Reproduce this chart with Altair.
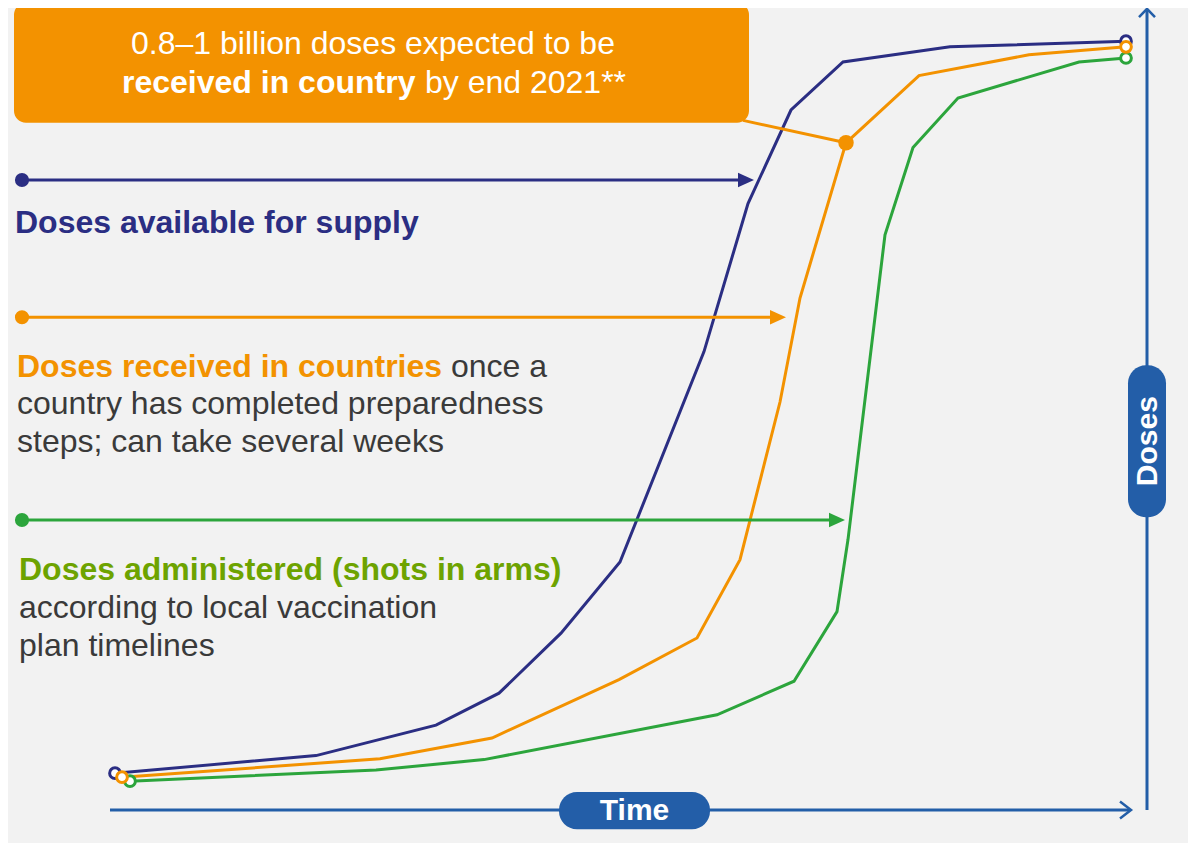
import altair as alt
import pandas as pd

# ---------------- data (time units, dose units) ----------------
series_names = ["Doses available for supply", "Doses received in countries", "Doses administered"]

supply_time = [0.5, 20.6, 32.6, 38.9, 45.1, 51.0, 59.4, 63.8, 68.1, 73.3, 84.0, 101.6]
supply_doses = [4.6, 6.8, 10.6, 14.6, 22.1, 31.0, 57.3, 75.8, 87.5, 93.5, 95.4, 96.1]

received_time = [1.2, 27.0, 38.2, 50.9, 58.7, 63.0, 67.0, 69.0, 73.6, 80.9, 91.9, 101.6]
received_doses = [4.1, 6.4, 9.0, 16.3, 21.5, 31.3, 51.0, 64.0, 83.4, 91.8, 94.4, 95.4]

admin_time = [2.0, 26.6, 37.4, 60.7, 68.4, 72.7, 73.8, 77.5, 80.3, 84.8, 96.9, 101.6]
admin_doses = [3.6, 5.0, 6.3, 11.9, 16.1, 24.8, 33.8, 71.9, 82.8, 89.0, 93.5, 94.0]

callout_index = 8  # vertex of the "received" curve that the callout points to

box_line1 = "0.8\u20131 billion doses expected to be"
box_line2_bold = "received in country"
box_line2_rest = "by end 2021**"

# ---------------- styles ----------------
NAVY = "#2B2E83"
ORANGE = "#F39200"
GREEN = "#2CA53C"
OLIVE = "#6DA300"
GREY = "#3A3A3A"
AXIS = "#235EA8"
BG = "#F2F2F2"
FONT = "Liberation Sans"

W, H = 1180, 835
xs = alt.Scale(domain=[-10.2, 107.8], nice=False, zero=False)
ys = alt.Scale(domain=[-4.125, 100.25], nice=False, zero=False)


def X(f="t"):
    return alt.X(f"{f}:Q", scale=xs, axis=None)


def Y(f="d"):
    return alt.Y(f"{f}:Q", scale=ys, axis=None)


series = [
    (series_names[0], supply_time, supply_doses),
    (series_names[1], received_time, received_doses),
    (series_names[2], admin_time, admin_doses),
]
rows = []
for name, ts, ds in series:
    for i, (t, d) in enumerate(zip(ts, ds)):
        rows.append({"s": name, "i": i, "t": t, "d": d})
lines_df = pd.DataFrame(rows)
color_scale = alt.Scale(domain=series_names, range=[NAVY, ORANGE, GREEN])

ends_df = pd.DataFrame(
    [{"s": n, "t": ts[0], "d": ds[0], "k": 0} for n, ts, ds in series]
    + [{"s": n, "t": ts[-1], "d": ds[-1], "k": 1} for n, ts, ds in series]
)

# ---------------- layers ----------------
box = alt.Chart(pd.DataFrame([{"t": -9.6, "t2": 63.9, "d": 100.9, "d2": 85.9}])).mark_rect(
    color=ORANGE, cornerRadius=12
).encode(x=X(), x2="t2:Q", y=Y(), y2="d2:Q")

curves = alt.Chart(lines_df).mark_line(strokeWidth=3).encode(
    x=X(), y=Y(), color=alt.Color("s:N", scale=color_scale, legend=None), order="i:Q"
)

cx, cy = received_time[callout_index], received_doses[callout_index]
callout = alt.Chart(pd.DataFrame([{"t": 63.3, "d": 86.2, "t2": cx, "d2": cy}])).mark_rule(
    color=ORANGE, strokeWidth=3
).encode(x=X(), y=Y(), x2="t2:Q", y2="d2:Q")
callout_dot = alt.Chart(pd.DataFrame([{"t": cx, "d": cy}])).mark_point(
    shape="circle", filled=True, color=ORANGE, size=240, opacity=1
).encode(x=X(), y=Y())

arrows_df = pd.DataFrame(
    [
        {"t": -8.8, "tip": 64.4, "d": 78.75, "c": NAVY},
        {"t": -8.8, "tip": 67.6, "d": 61.6, "c": ORANGE},
        {"t": -8.8, "tip": 73.5, "d": 36.25, "c": GREEN},
    ]
)
arrows_df["head"] = arrows_df["tip"] - 0.8
arrow_lines = alt.Chart(arrows_df).mark_rule(strokeWidth=3).encode(
    x=X(), x2="head:Q", y=Y(), color=alt.Color("c:N", scale=None)
)
arrow_heads = alt.Chart(arrows_df).mark_point(
    shape="M-1,-0.9L1,0L-1,0.9Z", filled=True, size=256, opacity=1
).encode(x=X("head"), y=Y(), color=alt.Color("c:N", scale=None))
arrow_dots = alt.Chart(arrows_df).mark_point(
    shape="circle", filled=True, size=200, opacity=1
).encode(x=X(), y=Y(), color=alt.Color("c:N", scale=None))

end_circles = alt.Chart(ends_df).mark_point(
    shape="circle", filled=True, fill="white", size=115, strokeWidth=3, opacity=1
).encode(
    x=X(), y=Y(), stroke=alt.Stroke("s:N", scale=color_scale, legend=None),
    order=alt.Order("s:N", sort="ascending")
)

axis_rules = alt.Chart(
    pd.DataFrame(
        [
            {"t": 0.0, "t2": 102.0, "d": 0.0, "d2": 0.0},
            {"t": 103.7, "t2": 103.7, "d": 0.0, "d2": 100.1},
        ]
    )
).mark_rule(color=AXIS, strokeWidth=3).encode(x=X(), x2="t2:Q", y=Y(), y2="d2:Q")

chev_df = pd.DataFrame(
    [
        {"g": "x", "i": 0, "t": 101.0, "d": 1.05},
        {"g": "x", "i": 1, "t": 102.1, "d": 0.0},
        {"g": "x", "i": 2, "t": 101.0, "d": -1.05},
        {"g": "y", "i": 0, "t": 102.9, "d": 99.1},
        {"g": "y", "i": 1, "t": 103.7, "d": 100.15},
        {"g": "y", "i": 2, "t": 104.5, "d": 99.1},
    ]
)
chevrons = alt.Chart(chev_df).mark_line(color=AXIS, strokeWidth=2.5).encode(
    x=X(), y=Y(), detail="g:N", order="i:Q"
)

pills = alt.Chart(
    pd.DataFrame(
        [
            {"t": 44.9, "t2": 60.0, "d": 2.25, "d2": -2.4},
            {"t": 101.8, "t2": 105.6, "d": 55.6, "d2": 36.6},
        ]
    )
).mark_rect(color=AXIS, cornerRadius=18).encode(x=X(), x2="t2:Q", y=Y(), y2="d2:Q")

time_label = alt.Chart(pd.DataFrame([{"t": 52.45, "d": -0.1, "txt": "Time"}])).mark_text(
    font=FONT, fontSize=30, fontWeight="bold", color="white", align="center", baseline="middle"
).encode(x=X(), y=Y(), text="txt:N")
doses_label = alt.Chart(pd.DataFrame([{"t": 103.75, "d": 46.1, "txt": "Doses"}])).mark_text(
    font=FONT, fontSize=30, fontWeight="bold", color="white", align="center", baseline="middle", angle=270
).encode(x=X(), y=Y(), text="txt:N")

box_text1 = alt.Chart(pd.DataFrame([{"t": 26.3, "d": 94.55, "txt": box_line1}])).mark_text(
    font=FONT, fontSize=32, color="white", align="center", baseline="alphabetic"
).encode(x=X(), y=Y(), text="txt:N")
box_text2b = alt.Chart(pd.DataFrame([{"t": 1.2, "d": 89.6, "txt": box_line2_bold}])).mark_text(
    font=FONT, fontSize=32, fontWeight="bold", color="white", align="left", baseline="alphabetic"
).encode(x=X(), y=Y(), text="txt:N")
box_text2r = alt.Chart(pd.DataFrame([{"t": 31.5, "d": 89.6, "txt": box_line2_rest}])).mark_text(
    font=FONT, fontSize=32, color="white", align="left", baseline="alphabetic"
).encode(x=X(), y=Y(), text="txt:N")

bold_df = pd.DataFrame(
    [
        {"t": -9.5, "d": 72.1, "txt": "Doses available for supply", "c": NAVY},
        {"t": -9.3, "d": 54.1, "txt": "Doses received in countries", "c": ORANGE},
        {"t": -9.1, "d": 28.75, "txt": "Doses administered (shots in arms)", "c": OLIVE},
    ]
)
bold_text = alt.Chart(bold_df).mark_text(
    font=FONT, fontSize=32, fontWeight="bold", align="left", baseline="alphabetic"
).encode(x=X(), y=Y(), text="txt:N", color=alt.Color("c:N", scale=None))

reg_df = pd.DataFrame(
    [
        {"t": 34.1, "d": 54.1, "txt": "once a"},
        {"t": -9.3, "d": 49.45, "txt": "country has completed preparedness"},
        {"t": -9.3, "d": 44.8, "txt": "steps; can take several weeks"},
        {"t": -9.1, "d": 24.0, "txt": "according to local vaccination"},
        {"t": -9.1, "d": 19.25, "txt": "plan timelines"},
    ]
)
reg_text = alt.Chart(reg_df).mark_text(
    font=FONT, fontSize=32, color=GREY, align="left", baseline="alphabetic"
).encode(x=X(), y=Y(), text="txt:N")

chart = alt.layer(
    box, curves, callout, arrow_lines, arrow_heads, arrow_dots, callout_dot, end_circles,
    axis_rules, chevrons, pills, time_label, doses_label,
    box_text1, box_text2b, box_text2r, bold_text, reg_text,
).properties(
    width=W, height=H, background=BG, padding=0,
    autosize=alt.AutoSizeParams(type="none"),
).configure_view(strokeWidth=0)

chart.save("out.html", embed_options={"renderer": "svg", "actions": False})
